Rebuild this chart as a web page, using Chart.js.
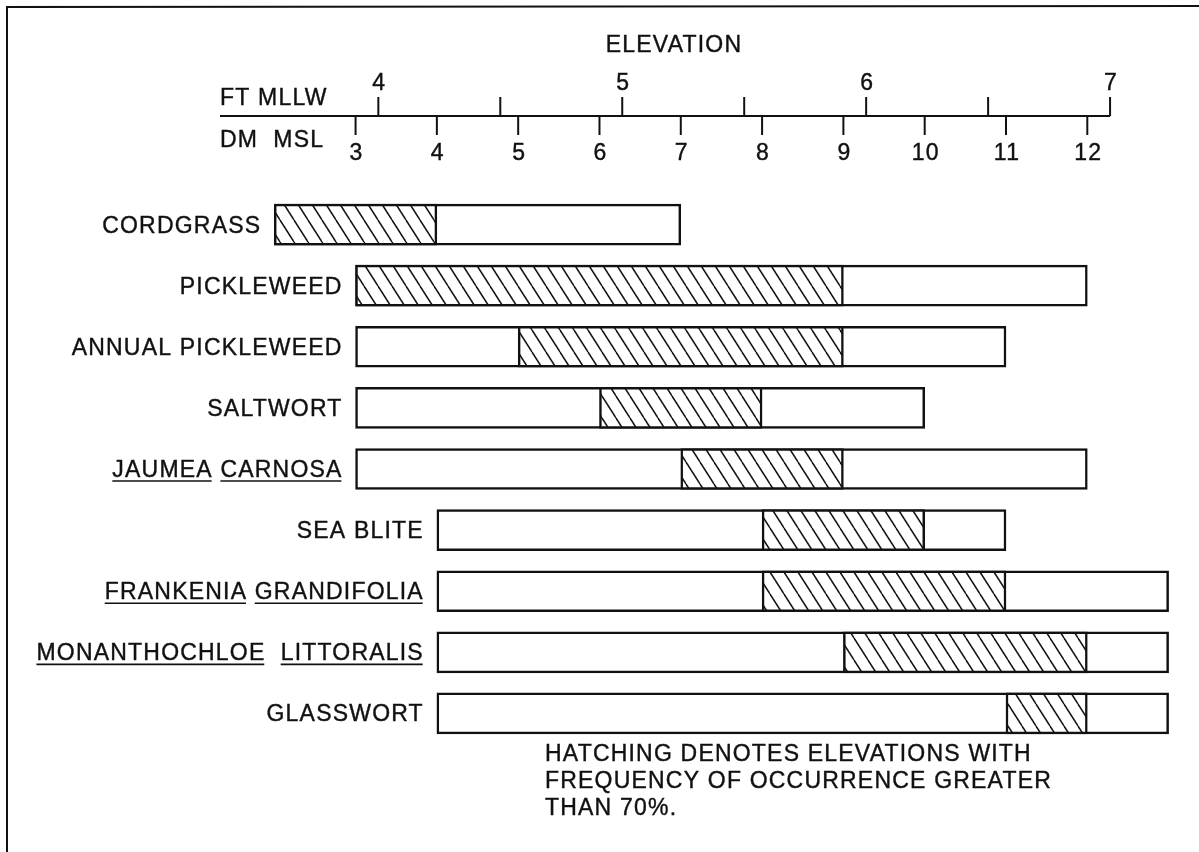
<!DOCTYPE html>
<html>
<head>
<meta charset="utf-8">
<script src="https://cdn.jsdelivr.net/npm/chart.js@4"></script>
<style>
  html, body { margin: 0; padding: 0; background: #fff; }
  #wrap { width: 1199px; height: 852px; position: relative; }
</style>
</head>
<body>
<div id="wrap"><canvas id="myChart"></canvas></div>
<script>
// elevation ranges in decimetres above MSL
const species = ["CORDGRASS", "PICKLEWEED", "ANNUAL PICKLEWEED", "SALTWORT", "JAUMEA CARNOSA",
  "SEA BLITE", "FRANKENIA GRANDIFOLIA", "MONANTHOCHLOE  LITTORALIS", "GLASSWORT"];
const underlined = [false, false, false, false, true, false, true, true, false];
const rangeStart = [2, 3, 3, 3, 3, 4, 4, 4, 4];
const rangeEnd   = [7, 12, 11, 10, 12, 11, 13, 13, 13];
const hatchStart = [2, 3, 5, 6, 7, 8, 8, 9, 11];
const hatchEnd   = [4, 9, 9, 8, 9, 10, 11, 12, 12];

const dmTicks = [3, 4, 5, 6, 7, 8, 9, 10, 11, 12];
const ftTicks = [4, 4.5, 5, 5.5, 6, 6.5, 7];
const ftLabels = ["4", "", "5", "", "6", "", "7"];
const noteLines = ["HATCHING DENOTES ELEVATIONS WITH", "FREQUENCY OF OCCURRENCE GREATER", "THAN 70%."];

const FONT = "23px 'Liberation Sans', Arial, sans-serif";
const SPACING = 1.2;
const dmMin = 1.8, dmMax = 13.3;
// ft MLLW vs dm MSL as drawn on the figure
function ftOf(dm) { return 4 + (dm - 3.28) / 3.0; }

function hatchPattern() {
  const c = document.createElement('canvas');
  c.width = 14; c.height = 22;
  const g = c.getContext('2d');
  g.fillStyle = '#fff';
  g.fillRect(0, 0, 14, 22);
  g.strokeStyle = '#111';
  g.lineWidth = 1.5;
  for (let off = -14; off <= 14; off += 14) {
    g.beginPath();
    g.moveTo(off, 0);
    g.lineTo(off + 14, 22);
    g.stroke();
  }
  return g.createPattern(c, 'repeat');
}

function text(ctx, str, x, y, align) {
  ctx.textAlign = align || 'left';
  ctx.fillText(str, x, y);
  ctx.strokeText(str, x, y);
}

const drawPlugin = {
  id: 'elevation',
  afterDraw(chart) {
    const ctx = chart.ctx;
    const xs = chart.scales.x, fs = chart.scales.ft, ys = chart.scales.y;
    ctx.save();
    ctx.strokeStyle = '#111';
    ctx.fillStyle = '#111';
    ctx.font = FONT;
    ctx.letterSpacing = SPACING + 'px';
    ctx.textBaseline = 'alphabetic';

    // frame
    ctx.lineWidth = 2;
    ctx.beginPath();
    ctx.moveTo(7, 852);
    ctx.lineTo(7, 7);
    ctx.lineTo(1199, 6);
    ctx.stroke();

    // axis line
    const axisY = 116;
    const right = fs.getPixelForValue(ftTicks[ftTicks.length - 1]);
    ctx.beginPath();
    ctx.moveTo(220, axisY);
    ctx.lineTo(right, axisY);
    ctx.stroke();

    dmTicks.forEach(v => {
      const px = xs.getPixelForValue(v);
      ctx.lineWidth = 2;
      ctx.beginPath();
      ctx.moveTo(px, axisY);
      ctx.lineTo(px, axisY + 19);
      ctx.stroke();
      ctx.lineWidth = 0.4;
      text(ctx, String(v), px + 1, 160, 'center');
    });
    ftTicks.forEach((v, i) => {
      const px = fs.getPixelForValue(v);
      ctx.lineWidth = 2;
      ctx.beginPath();
      ctx.moveTo(px, axisY);
      ctx.lineTo(px, axisY - 19);
      ctx.stroke();
      ctx.lineWidth = 0.4;
      if (ftLabels[i]) text(ctx, ftLabels[i], px + 1, 90, 'center');
    });

    ctx.lineWidth = 0.4;
    text(ctx, "ELEVATION", 674, 52, 'center');
    text(ctx, "FT MLLW", 220, 105);
    text(ctx, "DM  MSL", 220, 147);

    // species labels, right aligned against the start of each bar
    species.forEach((name, i) => {
      const yc = ys.getPixelForValue(i);
      const xr = xs.getPixelForValue(rangeStart[i]) - 13;
      const w = ctx.measureText(name).width;
      const x0 = xr - w;
      ctx.lineWidth = 0.4;
      text(ctx, name, x0, yc + 8);
      if (underlined[i]) {
        ctx.lineWidth = 1.6;
        let pos = 0;
        name.split(/ +/).forEach(word => {
          const idx = name.indexOf(word, pos);
          const ox = ctx.measureText(name.slice(0, idx)).width;
          const ww = ctx.measureText(word).width - SPACING;
          ctx.beginPath();
          ctx.moveTo(x0 + ox, yc + 12);
          ctx.lineTo(x0 + ox + ww, yc + 12);
          ctx.stroke();
          pos = idx + word.length;
        });
      }
    });

    ctx.lineWidth = 0.4;
    noteLines.forEach((line, i) => {
      text(ctx, line, 545, 761 + i * 27);
    });
    ctx.restore();
  }
};

const ctx = document.getElementById('myChart');
new Chart(ctx, {
  type: 'bar',
  data: {
    labels: species,
    datasets: [{
      label: 'frequency > 70%',
      data: hatchStart.map((s, i) => [s, hatchEnd[i]]),
      backgroundColor: hatchPattern(),
      borderColor: '#111',
      borderWidth: 2.5,
      borderSkipped: false,
      barThickness: 41,
      grouped: false
    }, {
      label: 'range',
      data: rangeStart.map((s, i) => [s, rangeEnd[i]]),
      backgroundColor: '#fff',
      borderColor: '#111',
      borderWidth: 2.5,
      borderSkipped: false,
      barThickness: 41,
      grouped: false
    }]
  },
  options: {
    indexAxis: 'y',
    responsive: true,
    maintainAspectRatio: false,
    animation: false,
    layout: { padding: { left: 258, right: 6, top: 194, bottom: 108 } },
    plugins: { legend: { display: false }, tooltip: { enabled: false } },
    scales: {
      x: { type: 'linear', min: dmMin, max: dmMax, display: false },
      ft: { type: 'linear', axis: 'x', position: 'top', min: ftOf(dmMin), max: ftOf(dmMax), display: false },
      y: { type: 'category', display: false }
    }
  },
  plugins: [drawPlugin]
});
</script>
</body>
</html>
